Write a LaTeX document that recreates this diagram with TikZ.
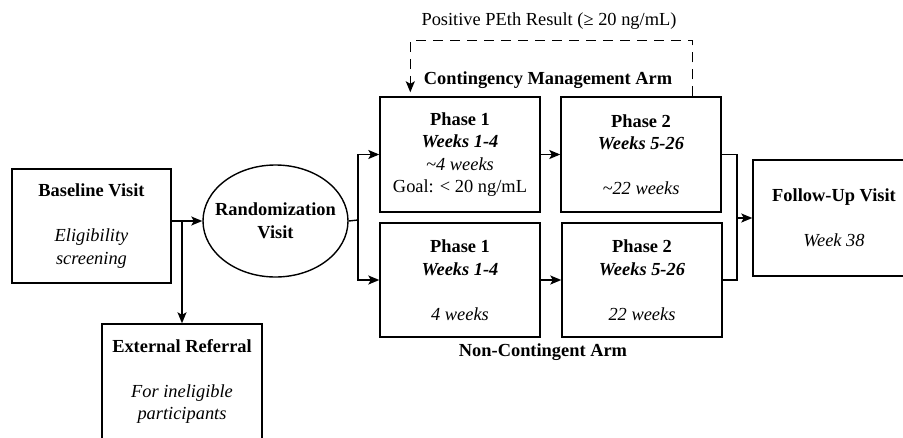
\documentclass[tikz,border=0pt]{standalone}
\usepackage{fontspec}
\setmainfont{Liberation Serif}
\usetikzlibrary{arrows.meta,shapes.geometric}

\tikzset{
  stagebox/.style={draw,rectangle,minimum width=160,minimum height=115,inner sep=0pt,align=center},
  tip/.style={-{Stealth[length=11pt,width=9pt,inset=2.5pt]}}
}

\begin{document}
\begin{tikzpicture}[x=1pt,y=-1pt,line width=1.4pt,
  font=\fontsize{18.4}{22.5}\selectfont]
\useasboundingbox (0,0) rectangle (903,437);
\clip (0,0) rectangle (903,437);

% left side
\node[stagebox,minimum width=159,minimum height=114] (base) at (91.5,226)
  {\textbf{Baseline Visit}\\[22.5pt]\textit{Eligibility}\\\textit{screening}};
\node[draw,ellipse,minimum width=145,minimum height=112,inner sep=0pt,align=center] (rand) at (275.5,221)
  {\makebox[80pt]{\textbf{Randomization}}\\\textbf{Visit}};
\node[stagebox] (ext) at (182,381.5)
  {\textbf{External Referral}\\[22.5pt]\textit{For ineligible}\\\textit{participants}};

% the two arms
\node[stagebox] (cm1) at (460,154.5)
  {\textbf{Phase 1}\\\textbf{\textit{Weeks 1-4}}\\\textit{\textasciitilde 4 weeks}\\Goal: < 20 ng/mL};
\node[stagebox] (cm2) at (641,154.5)
  {\textbf{Phase 2}\\\textbf{\textit{Weeks 5-26}}\\[22.5pt]\textit{\textasciitilde 22 weeks}};
\node[stagebox,minimum height=114] (nc1) at (460,280)
  {\textbf{Phase 1}\\\textbf{\textit{Weeks 1-4}}\\[22.5pt]\textit{4 weeks}};
\node[stagebox,minimum height=114] (nc2) at (642,280)
  {\textbf{Phase 2}\\\textbf{\textit{Weeks 5-26}}\\[22.5pt]\textit{22 weeks}};
\node[font=\fontsize{18.4}{22.5}\selectfont\bfseries] (cmarm) at (548,80) {Contingency Management Arm};
\node[font=\fontsize{18.4}{22.5}\selectfont\bfseries] (ncarm) at (543,352) {Non-Contingent Arm};

% right side
\node[stagebox,minimum width=162,minimum height=116] (fu) at (834,218)
  {\textbf{Follow-Up Visit}\\[22.5pt]\textit{Week 38}};

% connectors
\coordinate (split) at (182,220);
\coordinate (fork) at (358,220);
\coordinate (merge) at (737,218);
\draw[tip] (base.east |- rand.west) -- (rand.west);
\draw[tip] (split) -- (ext.north);
\draw (rand.east) -- (fork);
\draw[tip] (fork) |- (cm1.west);
\draw[tip] (fork) |- (nc1.west);
\draw[tip] (cm1) -- (cm2);
\draw[tip] (nc1) -- (nc2);
\draw (cm2.east) -| (merge) |- (nc2.east);
\draw[tip] (merge) -- (fu.west);

% feedback loop
\draw[tip,dash pattern=on 10pt off 7pt] ([xshift=-29pt]cm2.north east) -- ++(0,-56)
  -| ([xshift=31pt,yshift=4pt]cm1.north west);
\node (peth) at (549,21) {Positive PEth Result (≥ 20 ng/mL)};
\end{tikzpicture}
\end{document}
